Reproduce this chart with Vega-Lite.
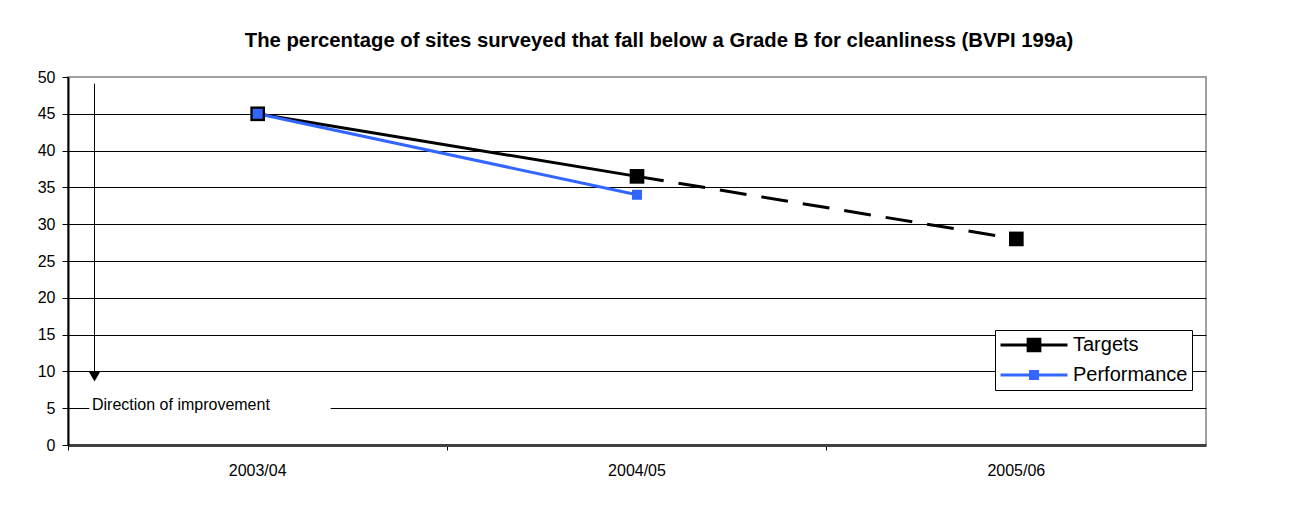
{
  "$schema": "https://vega.github.io/schema/vega-lite/v6.json",
  "width": 1138,
  "height": 368,
  "autosize": {"type": "none"},
  "padding": {"left": 68, "top": 77, "right": 99, "bottom": 69},
  "background": "#ffffff",
  "config": {
    "font": "Liberation Sans",
    "view": {"stroke": "#a0a0a0", "strokeWidth": 2}
  },
  "title": {
    "text": "The percentage of sites surveyed that fall below a Grade B for cleanliness (BVPI 199a)",
    "font": "Liberation Sans",
    "fontSize": 20.3,
    "fontWeight": "bold",
    "color": "#000000",
    "anchor": "middle",
    "frame": "group",
    "baseline": "alphabetic",
    "offset": 2,
    "dx": 22
  },
  "data": {
    "values": [
      {"year": "2003/04", "series": "Targets", "value": 45},
      {"year": "2004/05", "series": "Targets", "value": 36.5},
      {"year": "2005/06", "series": "Targets", "value": 28},
      {"year": "2003/04", "series": "Performance", "value": 45},
      {"year": "2004/05", "series": "Performance", "value": 34}
    ]
  },
  "layer": [
    {
      "transform": [{"filter": "datum.series === 'Targets' && datum.year !== '2005/06'"}],
      "mark": {"type": "line", "strokeWidth": 3},
      "encoding": {
        "x": {
          "field": "year",
          "type": "ordinal",
          "bandPosition": 0.5,
          "scale": {"type": "band", "paddingInner": 0, "paddingOuter": 0},
          "axis": {
            "title": null,
            "bandPosition": 0,
            "labelAngle": 0,
            "labelFontSize": 16,
            "labelColor": "#000000",
            "labelPadding": 12,
            "tickSize": 5,
            "tickColor": "#000000",
            "tickWidth": 1,
            "domainColor": "#404040",
            "domainWidth": 3,
            "grid": false
          }
        },
        "y": {
          "field": "value",
          "type": "quantitative",
          "scale": {"domain": [0, 50], "nice": false, "zero": true},
          "axis": {
            "title": null,
            "values": [0, 5, 10, 15, 20, 25, 30, 35, 40, 45, 50],
            "tickCount": 20,
            "labelOverlap": false,
            "grid": true,
            "gridColor": "#000000",
            "gridWidth": 1,
            "gridOpacity": {"condition": {"test": "datum.value === 50 || datum.value === 0", "value": 0}, "value": 1},
            "domainColor": "#000000",
            "domainWidth": 2,
            "tickColor": "#000000",
            "tickSize": 6,
            "labelFontSize": 16,
            "labelColor": "#000000",
            "labelPadding": 7
          }
        },
        "color": {
          "field": "series",
          "type": "nominal",
          "scale": {"domain": ["Targets", "Performance"], "range": ["#000000", "#3366ff"]},
          "legend": {
            "orient": "none",
            "legendX": 927,
            "legendY": 253,
            "title": null,
            "direction": "vertical",
            "strokeColor": "#000000",
            "fillColor": "#ffffff",
            "padding": 4,
            "clipHeight": 22,
            "rowPadding": 8,
            "labelFontSize": 20,
            "labelColor": "#000000",
            "labelOffset": 4,
            "symbolType": "M-1,0H1M-0.17,-0.17H0.17V0.17H-0.17Z",
            "symbolSize": 4489,
            "symbolStrokeWidth": 3,
            "symbolOpacity": 1,
            "encoding": {
              "symbols": {
                "fill": {"value": {"expr": "scale('color', datum.value)"}},
                "stroke": {"value": {"expr": "scale('color', datum.value)"}},
                "shape": {"value": {"expr": "datum.value === 'Targets' ? 'M-1,0H1M-0.175,-0.175H0.175V0.175H-0.175Z' : 'M-1,0H1M-0.104,-0.104H0.104V0.104H-0.104Z'"}},
                "strokeWidth": {"value": 3},
                "opacity": {"value": 1}
              }
            }
          }
        }
      }
    },
    {
      "transform": [{"filter": "datum.series === 'Targets' && datum.year !== '2003/04'"}],
      "mark": {"type": "line", "strokeWidth": 3, "strokeDash": [27, 15]},
      "encoding": {
        "x": {"field": "year", "type": "ordinal", "bandPosition": 0.5},
        "y": {"field": "value", "type": "quantitative"},
        "color": {"field": "series", "type": "nominal"}
      }
    },
    {
      "transform": [{"filter": "datum.series === 'Performance'"}],
      "mark": {"type": "line", "strokeWidth": 3},
      "encoding": {
        "x": {"field": "year", "type": "ordinal", "bandPosition": 0.5},
        "y": {"field": "value", "type": "quantitative"},
        "color": {"field": "series", "type": "nominal"}
      }
    },
    {
      "transform": [{"filter": "datum.series === 'Targets'"}],
      "mark": {"type": "point", "shape": "square", "filled": true, "size": 215, "opacity": 1},
      "encoding": {
        "x": {"field": "year", "type": "ordinal", "bandPosition": 0.5},
        "y": {"field": "value", "type": "quantitative"},
        "color": {"field": "series", "type": "nominal"}
      }
    },
    {
      "transform": [{"filter": "datum.series === 'Performance'"}],
      "mark": {"type": "point", "shape": "square", "filled": true, "size": 100, "opacity": 1},
      "encoding": {
        "x": {"field": "year", "type": "ordinal", "bandPosition": 0.5},
        "y": {"field": "value", "type": "quantitative"},
        "color": {"field": "series", "type": "nominal"}
      }
    },
    {
      "data": {"values": [{"note": "Direction of improvement"}]},
      "mark": {"type": "tick", "orient": "horizontal", "color": "#ffffff", "size": 146, "thickness": 5, "opacity": 1},
      "encoding": {
        "x": {"datum": "2003/04", "type": "ordinal"},
        "y": {"datum": 5, "type": "quantitative"}
      }
    },
    {
      "data": {"values": [{"note": "Direction of improvement"}]},
      "mark": {"type": "text", "align": "left", "baseline": "alphabetic", "fontSize": 16, "stroke": "#ffffff", "strokeWidth": 8, "fill": "#ffffff"},
      "encoding": {
        "x": {"datum": "2003/04", "type": "ordinal", "bandPosition": 0.0633},
        "y": {"datum": 4.75, "type": "quantitative"},
        "text": {"field": "note"}
      }
    },
    {
      "data": {"values": [{"note": "Direction of improvement"}]},
      "mark": {"type": "text", "align": "left", "baseline": "alphabetic", "fontSize": 16, "fill": "#000000"},
      "encoding": {
        "x": {"datum": "2003/04", "type": "ordinal", "bandPosition": 0.0633},
        "y": {"datum": 4.75, "type": "quantitative"},
        "text": {"field": "note"}
      }
    },
    {
      "data": {"values": [{"note": "Direction of improvement"}]},
      "mark": {"type": "rule", "color": "#000000", "strokeWidth": 1},
      "encoding": {
        "x": {"datum": "2003/04", "type": "ordinal", "bandPosition": 0.0699},
        "y": {"datum": 49.1, "type": "quantitative"},
        "y2": {"datum": 10.0}
      }
    },
    {
      "data": {"values": [{"note": "Direction of improvement"}]},
      "mark": {"type": "point", "shape": "triangle-down", "filled": true, "size": 128, "color": "#000000", "opacity": 1},
      "encoding": {
        "x": {"datum": "2003/04", "type": "ordinal", "bandPosition": 0.0699},
        "y": {"datum": 9.3, "type": "quantitative"}
      }
    }
  ]
}
